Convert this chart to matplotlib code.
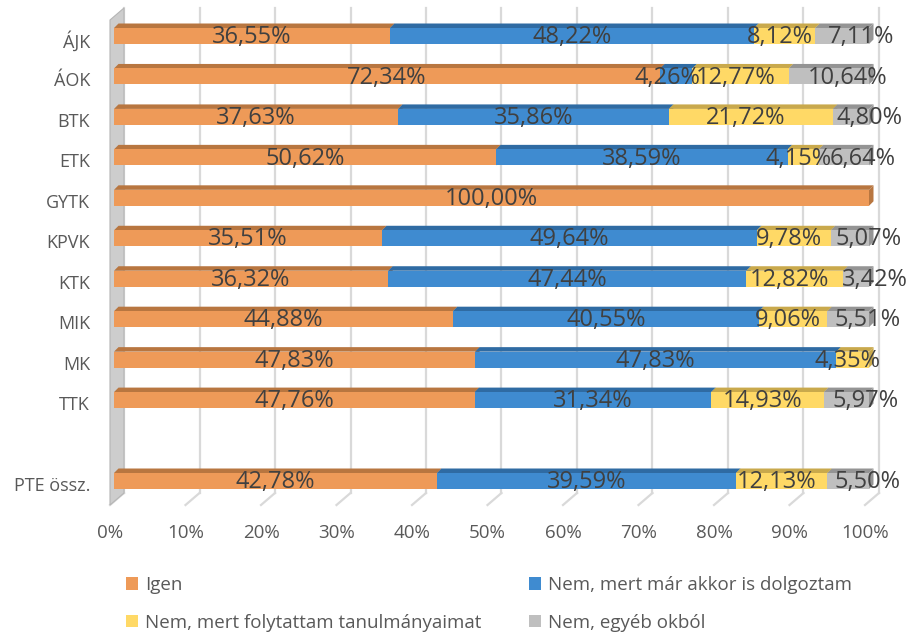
import matplotlib.pyplot as plt
from matplotlib.patches import Polygon, Rectangle, Patch
from matplotlib.transforms import ScaledTranslation, blended_transform_factory

plt.rcParams['font.family'] = ['Open Sans', 'DejaVu Sans']

# data
categories = ['ÁJK', 'ÁOK', 'BTK', 'ETK', 'GYTK', 'KPVK', 'KTK', 'MIK', 'MK', 'TTK', '', 'PTE össz.']
igen = [36.55, 72.34, 37.63, 50.62, 100.00, 35.51, 36.32, 44.88, 47.83, 47.76, None, 42.78]
dolgoztam = [48.22, 4.26, 35.86, 38.59, 0, 49.64, 47.44, 40.55, 47.83, 31.34, None, 39.59]
tanulmany = [8.12, 12.77, 21.72, 4.15, 0, 9.78, 12.82, 9.06, 4.35, 14.93, None, 12.13]
egyeb = [7.11, 10.64, 4.80, 6.64, 0, 5.07, 3.42, 5.51, 0, 5.97, None, 5.50]

series = [igen, dolgoztam, tanulmany, egyeb]
series_names = ['Igen', 'Nem, mert már akkor is dolgoztam',
                'Nem, mert folytattam tanulmányaimat', 'Nem, egyéb okból']
front_colors = ['#EE9A58', '#3F8BD0', '#FFD966', '#BFBFBF']
top_colors = ['#B87640', '#2F6BA3', '#C9A94C', '#949494']
label_shift = [0, 0, -5, 19]   # px, how Excel nudged the labels
xticks = list(range(0, 101, 10))

W, H = 911, 634
DPI = 100
fig = plt.figure(figsize=(W / DPI, H / DPI), dpi=DPI)

# axes geometry in pixels
ax_left, ax_right, ax_top, ax_bottom = 100, 890, 8, 505
ax = fig.add_axes([ax_left / W, 1 - ax_bottom / H, (ax_right - ax_left) / W, (ax_bottom - ax_top) / H])

# 0% of the bar front at pixel 114, 100% at 869
px_per_unit = (869 - 114) / 100
ax.set_xlim((ax_left - 114) / px_per_unit, (ax_right - 114) / px_per_unit)
# first bar centre at pixel 36, last at 481
py_per_unit = (481 - 36) / 11
ax.set_ylim(11 + (ax_bottom - 481) / py_per_unit, -(36 - ax_top) / py_per_unit)
ax.axis('off')


def px(dx, dy=0):
    # offset in pixels (y up positive)
    return ScaledTranslation(dx / DPI, dy / DPI, fig.dpi_scale_trans)


# back wall / floor gridlines
bt = blended_transform_factory(ax.transData, ax.transAxes)
floor = 12 / (ax_bottom - ax_top)
for v in xticks:
    ax.plot([v, v], [1, floor], color='#D9D9D9', lw=1.6, transform=bt + px(10), clip_on=False, zorder=1)
    ax.plot([v, v + 14 / px_per_unit], [0, floor], color='#D9D9D9', lw=1.6,
            transform=bt + px(-4), clip_on=False, zorder=1)

# left side wall
wall = Polygon([(0, 0), (14 / px_per_unit, floor), (14 / px_per_unit, 1), (0, 1 - 12 / (ax_bottom - ax_top))],
               closed=True, facecolor='#CDCDCD', edgecolor='#B5B5B5', lw=0.8,
               transform=bt + px(-4), clip_on=False, zorder=1)
ax.add_patch(wall)

bar_h = 16 / py_per_unit
dx = 4.5 / px_per_unit
dy = 4.5 / py_per_unit

for i, cat in enumerate(categories):
    if igen[i] is None:
        continue
    left = 0
    for s, vals in enumerate(series):
        w = vals[i]
        if not w:
            continue
        top = i - bar_h / 2
        z = 3 + s * 0.1
        # top face
        ax.add_patch(Polygon([(left, top), (left + w, top), (left + w + dx, top - dy), (left + dx, top - dy)],
                             closed=True, facecolor=top_colors[s], edgecolor='none', zorder=z))
        # right face
        ax.add_patch(Polygon([(left + w, top), (left + w + dx, top - dy), (left + w + dx, top + bar_h - dy),
                              (left + w, top + bar_h)],
                             closed=True, facecolor=top_colors[s], edgecolor='none', zorder=z))
        # front face
        ax.add_patch(Rectangle((left, top), w, bar_h, facecolor=front_colors[s], edgecolor='none', zorder=z + 0.05))
        txt = f'{w:.2f}%'.replace('.', ',')
        if s == 1 and w < 8:
            # narrow blue segment: Excel pushed the label left
            ax.text(left + w, i + 0.03, txt, ha='right', va='center', fontsize=17, color='#404040',
                    zorder=10, transform=ax.transData + px(8))
        else:
            ax.text(left + w / 2, i + 0.03, txt, ha='center', va='center', fontsize=17, color='#404040',
                    zorder=10, transform=ax.transData + px(label_shift[s]))
        left += w

# category labels
for i, cat in enumerate(categories):
    ax.text(0, i, cat, ha='right', va='center', fontsize=13, color='#595959',
            transform=ax.transData + px(-24, -5))

# x tick labels
for v in xticks:
    ax.text(v, 0, f'{v}%', ha='center', va='center', fontsize=13.5, color='#595959',
            transform=bt + px(-4, -28))

handles = [Patch(facecolor=c, edgecolor='none') for c in front_colors]
order = [0, 2, 1, 3]
fig.legend([handles[k] for k in order], [series_names[k] for k in order], loc='upper left',
           bbox_to_anchor=(126 / W, 1 - 576 / H), ncol=2,
           frameon=False, fontsize=13.5, handlelength=0.65, handleheight=0.65, handletextpad=0.35,
           columnspacing=2.55, labelspacing=1.05, labelcolor='#595959', borderpad=0, borderaxespad=0)

fig.savefig('out.png', dpi=DPI)
